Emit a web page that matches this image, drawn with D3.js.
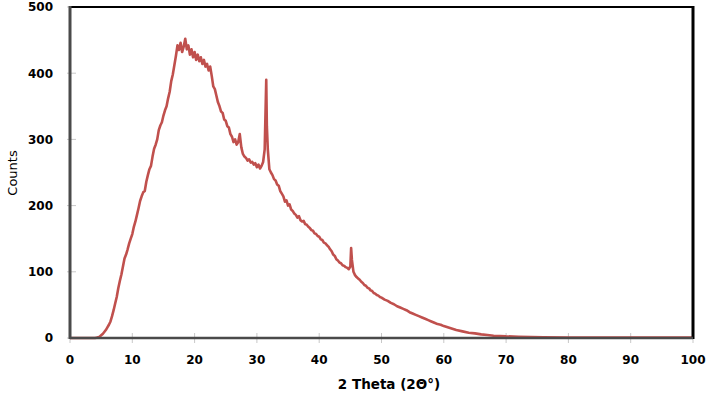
<!DOCTYPE html>
<html><head><meta charset="utf-8">
<script src="https://cdn.jsdelivr.net/npm/d3@7"></script>
<style>html,body{margin:0;padding:0;background:#fff;}svg{display:block;}</style>
</head><body>
<svg id="c" width="708" height="396"></svg>
<script>
const twoTheta = [0,4,4.25,4.5,4.75,5,5.25,5.5,5.75,6,6.25,6.5,6.75,7,7.25,7.5,7.75,8,8.25,8.5,8.75,9,9.25,9.5,9.75,
10,10.25,10.5,10.75,11,11.25,11.5,11.75,12,12.25,12.5,12.75,13,13.25,13.5,13.75,14,14.25,14.5,14.75,
15,15.25,15.5,15.75,16,16.25,16.5,16.75,17,17.25,17.5,17.75,18,18.25,18.5,18.75,19,19.25,19.5,19.75,
20,20.25,20.5,20.75,21,21.25,21.5,21.75,22,22.25,22.5,22.75,23,23.25,23.5,23.75,24,24.25,24.5,24.75,
25,25.25,25.5,25.75,26,26.25,26.5,26.75,27,27.25,27.5,27.75,28,28.25,28.5,28.75,29,29.25,29.5,29.75,
30,30.25,30.5,30.75,31,31.25,31.5,31.6,31.75,32,32.25,32.5,32.75,33,33.25,33.5,33.75,34,34.25,34.5,34.75,
35,35.25,35.5,35.75,36,36.25,36.5,36.75,37,37.25,37.5,37.75,38,38.25,38.5,38.75,39,39.25,39.5,39.75,
40,40.25,40.5,40.75,41,41.25,41.5,41.75,42,42.25,42.5,42.75,43,43.25,43.5,43.75,44,44.25,44.5,44.75,
45,45.125,45.25,45.5,45.75,46,46.25,46.5,46.75,47,47.25,47.5,47.75,48,48.25,48.5,48.75,49,49.25,49.5,49.75,
50,50.5,51,51.5,52,52.5,53,53.5,54,54.5,55,55.5,56,56.5,57,57.5,58,58.5,59,59.5,
60,61,62,63,64,65,66,67,68,69,70,72,74,76,80,90,100];
const counts = [0,0,0.5,1,2,4,6,9,12,16,20,25,33,42,52,62,75,86,96,108,120,126,134,143,150,
157,168,176,186,196,207,214,220,222,236,246,255,260,274,286,292,300,314,321,326,
336,344,350,362,372,388,398,412,426,442,435,446,432,440,452,436,442,428,436,424,
432,420,428,418,424,414,420,410,414,404,410,396,380,376,366,356,350,342,340,330,
328,320,318,308,304,296,300,292,296,308,288,278,274,272,268,270,265,266,262,264,
258,262,256,260,266,285,390,320,285,255,250,246,240,238,232,230,222,218,214,206,208,
200,202,194,192,188,186,182,184,178,176,177,172,171,168,166,163,162,158,157,154,
153,149,148,144,143,140,138,134,131,126,124,119,117,114,113,110,109,107,106,104,
108,136,118,100,95,92,90,88,85,83,80,79,76,75,72,71,68,67,65,64,62,
61,58,56,53,51,48,46,44,42,39,37,35,33,31,29,27,25,23,21,20,
18,15,12,10,8,7,5.5,4.5,3.5,3,2.5,2,1.5,1,0.8,0.5,0.5];
const xTicks = [0,10,20,30,40,50,60,70,80,90,100];
const yTicks = [0,100,200,300,400,500];
const xTitle = "2 Theta (2\u0398\u00B0)";
const yTitle = "Counts";

const svg = d3.select("#c");
const L = 70, R = 693, T = 7, B = 338;
const x = d3.scaleLinear().domain([0,100]).range([L,R]);
const y = d3.scaleLinear().domain([0,500]).range([B,T]);
const font = "'DejaVu Sans', Verdana, sans-serif";

// ticks
svg.append("g").selectAll("line").data(yTicks).join("line")
  .attr("x1", L-3).attr("x2", L+6).attr("y1", d=>y(d)).attr("y2", d=>y(d))
  .attr("stroke", "#c8c8c8").attr("stroke-width", 1);
svg.append("g").selectAll("line").data(xTicks).join("line")
  .attr("x1", d=>x(d)).attr("x2", d=>x(d)).attr("y1", B-5).attr("y2", B+5)
  .attr("stroke", "#c8c8c8").attr("stroke-width", 1);

// data line
const data = twoTheta.map((t,i)=>({t, c: counts[i]}));
svg.append("path").datum(data)
  .attr("fill","none").attr("stroke","#C0504D").attr("stroke-width",2.6)
  .attr("stroke-linejoin","round")
  .attr("d", d3.line().x(d=>x(d.t)).y(d=>y(d.c)));

// frame
svg.append("line").attr("x1",L).attr("x2",R).attr("y1",T).attr("y2",T).attr("stroke","#000").attr("stroke-width",2);
svg.append("line").attr("x1",R).attr("x2",R).attr("y1",T-1).attr("y2",B+1).attr("stroke","#000").attr("stroke-width",3);
svg.append("line").attr("x1",L).attr("x2",L).attr("y1",T-1).attr("y2",B+1).attr("stroke","#4a4a4a").attr("stroke-width",3);
svg.append("line").attr("x1",L).attr("x2",R).attr("y1",B).attr("y2",B).attr("stroke","#4a4a4a").attr("stroke-width",2.5);

// tick labels
svg.append("g").selectAll("text").data(yTicks).join("text")
  .attr("x", 53).attr("y", d=>y(d)).attr("dy","0.36em")
  .attr("text-anchor","end").attr("font-family",font).attr("font-weight","bold")
  .attr("font-size",12).attr("fill","#000").text(d=>d);
svg.append("g").selectAll("text").data(xTicks).join("text")
  .attr("x", d=>x(d)).attr("y", 364)
  .attr("text-anchor","middle").attr("font-family",font).attr("font-weight","bold")
  .attr("font-size",12).attr("fill","#000").text(d=>d);

// titles
svg.append("text").attr("x", 389).attr("y", 389).attr("text-anchor","middle")
  .attr("font-family",font).attr("font-weight","bold").attr("font-size",13.5).attr("fill","#000").text(xTitle);
svg.append("text").attr("transform","translate(17,173) rotate(-90)").attr("text-anchor","middle")
  .attr("font-family",font).attr("font-size",13).attr("fill","#000").text(yTitle);
</script>
</body></html>
